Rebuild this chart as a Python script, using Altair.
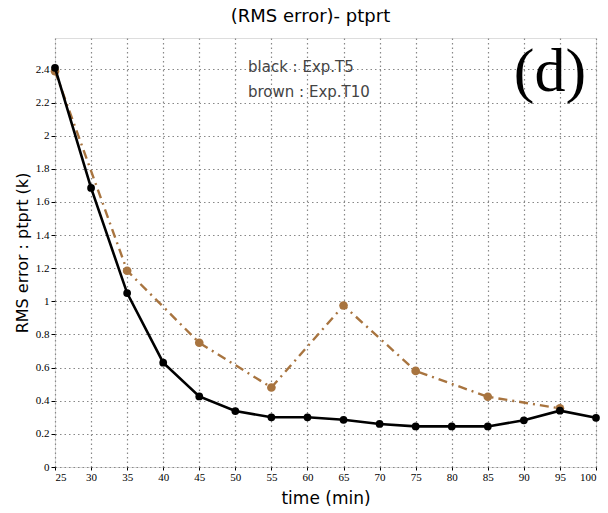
import altair as alt
import pandas as pd

# ---- data ----
times_t5 = [25, 30, 35, 40, 45, 50, 55, 60, 65, 70, 75, 80, 85, 90, 95, 100]
rms_t5 = [2.41, 1.685, 1.05, 0.63, 0.426, 0.338, 0.30, 0.30, 0.285, 0.26,
          0.245, 0.245, 0.245, 0.282, 0.34, 0.297]
times_t10 = [25, 35, 45, 55, 65, 75, 85, 95]
rms_t10 = [2.39, 1.185, 0.75, 0.48, 0.975, 0.58, 0.424, 0.354]
x_ticks = [25, 30, 35, 40, 45, 50, 55, 60, 65, 70, 75, 80, 85, 90, 95, 100]
y_ticks = [0, 0.2, 0.4, 0.6, 0.8, 1.0, 1.2, 1.4, 1.6, 1.8, 2.0, 2.2, 2.4]
legend_lines = ["black : Exp.T5", "brown : Exp.T10"]
panel_label = "(d)"
title_text = "(RMS error)- ptprt"
x_title = "time (min)"
y_title = "RMS error : ptprt (k)"

BROWN = "#a8743f"

df5 = pd.DataFrame({"time": times_t5, "rms": rms_t5})
df10 = pd.DataFrame({"time": times_t10, "rms": rms_t10})

xscale = alt.Scale(domain=[25, 100], nice=False, zero=False)
yscale = alt.Scale(domain=[0, 2.59], nice=False)

xaxis = alt.Axis(values=x_ticks, title=x_title, format="d", grid=True,
                 gridDash=[1.5, 3], gridColor="#888888", gridWidth=1.2,
                 domain=False, tickSize=3, tickColor="black",
                 labelOverlap=False,
                 labelFont="Liberation Sans Narrow", labelFontSize=11,
                 labelColor="black", labelPadding=1,
                 titleFont="DejaVu Sans", titleFontSize=17,
                 titleFontWeight="normal", titleColor="black", titlePadding=8)
yaxis = alt.Axis(values=y_ticks, title=y_title, format=".1~f", grid=True,
                 gridDash=[1.5, 3], gridColor="#888888", gridWidth=1.2,
                 domain=False, tickSize=4, tickColor="black",
                 labelOverlap=False,
                 labelFont="Liberation Sans Narrow", labelFontSize=11,
                 labelColor="black", labelPadding=2,
                 titleFont="DejaVu Sans", titleFontSize=16,
                 titleFontWeight="normal", titleColor="black", titlePadding=5)

X = alt.X("time:Q", scale=xscale, axis=xaxis)
Y = alt.Y("rms:Q", scale=yscale, axis=yaxis)

base5 = alt.Chart(df5).encode(x=X, y=Y)
line5 = base5.mark_line(color="black", strokeWidth=2.6)
pts5 = base5.mark_circle(color="black", size=60, opacity=1)

base10 = alt.Chart(df10).encode(x=X, y=Y)
line10 = base10.mark_line(color=BROWN, strokeWidth=2.4, strokeDash=[9, 5, 2, 5])
pts10 = base10.mark_circle(color=BROWN, size=75, opacity=1)

def note(text, x, y):
    return alt.Chart(pd.DataFrame({"t": [text]})).mark_text(
        align="left", baseline="middle", font="DejaVu Sans", fontSize=15,
        color="#444444"
    ).encode(x=alt.value(x), y=alt.value(y), text="t:N")

leg1 = note(legend_lines[0], 193, 29)
leg2 = note(legend_lines[1], 193, 54)

label = alt.Chart(pd.DataFrame({"t": [panel_label]})).mark_text(
    align="center", baseline="middle", font="Liberation Serif", fontSize=62,
    color="black"
).encode(x=alt.value(495), y=alt.value(34), text="t:N")

chart = alt.layer(line10, pts10, line5, pts5, leg1, leg2, label).properties(
    width=541, height=429,
    autosize=alt.AutoSizeParams(type="none"),
    padding={"left": 55, "top": 38, "right": 12, "bottom": 46},
    title=alt.TitleParams(title_text, font="DejaVu Sans", fontSize=18,
                          fontWeight="normal", color="black", anchor="middle",
                          offset=12, dx=-15),
).configure_view(stroke="black", strokeWidth=2.2).configure(background="white")

chart.save("out.html", embed_options={"renderer": "svg", "actions": False})
